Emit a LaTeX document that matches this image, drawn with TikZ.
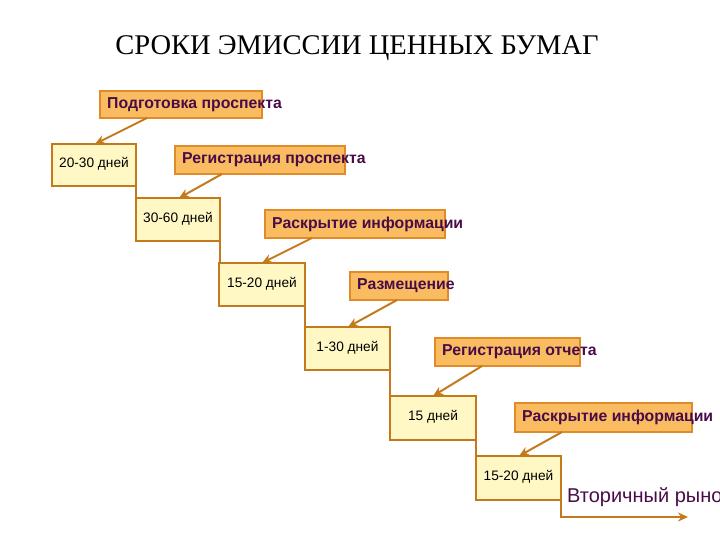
\documentclass[tikz,border=0pt]{standalone}
\usepackage{fontspec}
\setmainfont{Liberation Sans}
\newfontfamily\seriff{Liberation Serif}
\usetikzlibrary{arrows.meta}
\definecolor{ofill}{HTML}{F9BC60}
\definecolor{odraw}{HTML}{E08A2A}
\definecolor{yfill}{HTML}{FFF8C4}
\definecolor{ydraw}{HTML}{C47A1C}
\definecolor{txt}{HTML}{4A0C48}
\tikzset{
 obox/.style={draw=odraw,fill=ofill,line width=1.5pt},
 ybox/.style={draw=ydraw,fill=yfill,line width=2pt},
 otext/.style={anchor=west,text=txt,font=\fontsize{15.8}{18}\selectfont\bfseries,inner sep=0pt},
 ytext/.style={font=\fontsize{13.7}{16}\selectfont,inner sep=0pt},
 conn/.style={draw=ydraw,line width=2pt,-{Stealth[length=10pt,width=9pt]}},
 link/.style={draw=ydraw,line width=2pt}
}
\begin{document}
\begin{tikzpicture}[x=1pt,y=-1pt]
\useasboundingbox (0,0) rectangle (720,540);
\node[font=\seriff\fontsize{28.5}{32}\selectfont] (title) at (357,48) {СРОКИ ЭМИССИИ ЦЕННЫХ БУМАГ};
\foreach \n/\a/\b/\c/\d/\t in {
 1/100/91/262/118/Подготовка проспекта,
 2/175/146/345/174/Регистрация проспекта,
 3/265/210/445/238/Раскрытие информации,
 4/350/272/448/300/Размещение,
 5/435/338/580/366/Регистрация отчета,
 6/515/403/692/432/Раскрытие информации}{
 \path[obox] (\a,\b) rectangle (\c,\d);
 \coordinate (o\n) at (\a+47,\d);
 \node[otext] (ot\n) at (\a+7,\b/2+\d/2) {\t};
}
\foreach \n/\a/\b/\c/\d/\t in {
 1/52/144/136/186/20-30 дней,
 2/136/198/220/241/30-60 дней,
 3/219/263/305/306/15-20 дней,
 4/305/327/390/370/1-30 дней,
 5/390/396/476/440/15 дней,
 6/476/456/561/500/15-20 дней}{
 \path[ybox] (\a,\b) rectangle (\c,\d);
 \coordinate (yt\n) at (\a+43,\b);
 \coordinate (ybr\n) at (\c,\d);
 \node[ytext] (y\n) at (\a/2+\c/2,\b/2+\d/2-1) {\t};
}
\foreach \n in {1,...,6}{\draw[conn] (o\n) -- (yt\n);}
\foreach \n/\m in {1/2,2/3,3/4,4/5,5/6}{\draw[link] (ybr\n) -- (ybr\n |- yt\m);}
\node[anchor=west,text=txt,font=\fontsize{20}{23}\selectfont,inner sep=0pt] (vr) at (567,497) {Вторичный рынок};
\coordinate (end) at (688,517);
\draw[conn] (ybr6) |- (end);
\end{tikzpicture}
\end{document}
